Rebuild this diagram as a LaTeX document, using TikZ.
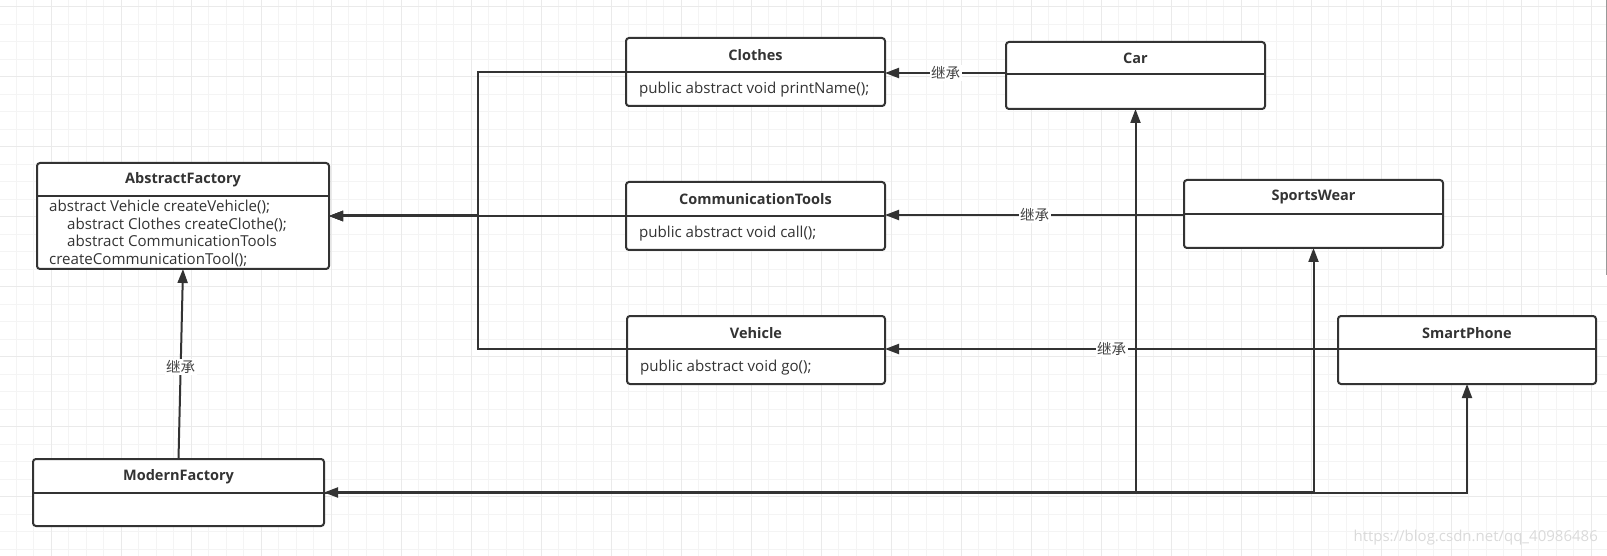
\documentclass[tikz,border=0pt]{standalone}
\usepackage{fontspec}
\setmainfont{Open Sans}
\newfontfamily\cjk{Noto Sans CJK SC}
\usetikzlibrary{arrows.meta}
\definecolor{ink}{HTML}{333333}
\definecolor{lblink}{HTML}{444444}
\definecolor{gridminor}{HTML}{F4F4F4}
\definecolor{gridmajor}{HTML}{EAEAEA}
\definecolor{wm}{HTML}{DADADA}
\tikzset{
 classbox/.style={draw=ink, line width=2pt, rounded corners=3pt, fill=white, inner sep=0pt, outer sep=0pt, anchor=north west},
 divider/.style={draw=ink, line width=2pt},
 ctitle/.style={font=\bfseries\fontsize{14.5}{17}\selectfont, text=ink, inner sep=0pt},
 cbody/.style={font=\fontsize{15.1}{17.7}\selectfont, text=ink, inner sep=0pt, anchor=west, align=left},
 edge/.style={draw=ink, line width=2pt, -{Triangle[length=14pt,width=10pt]}},
 trunk/.style={draw=ink, line width=3pt},
 lbl/.style={fill=white, inner sep=1.5pt, font=\cjk\fontsize{14.5}{16}\selectfont, text=lblink},
}
\begin{document}
\begin{tikzpicture}[x=1pt,y=-1pt]
\useasboundingbox (0,0) rectangle (1607,556);
\fill[white] (0,0) rectangle (1607,556);
% grid
\foreach \k in {0,...,92} \draw[gridminor, line width=1pt] ({-1.5+17.5*\k},0) -- ({-1.5+17.5*\k},556);
\foreach \k in {0,...,31} \draw[gridminor, line width=1pt] (0,{6.7+17.5*\k}) -- (1607,{6.7+17.5*\k});
\foreach \k in {0,...,22} \draw[gridmajor, line width=1pt] ({51+70*\k},0) -- ({51+70*\k},556);
\foreach \k in {0,...,7} \draw[gridmajor, line width=1pt] (0,{6.7+70*\k}) -- (1607,{6.7+70*\k});
\draw[color=black!40, line width=1pt] (1606,0) -- (1606,275);

% classes
\node[classbox, minimum width=292pt, minimum height=106pt] (af) at (37,163) {};
\draw[divider] (37,196) -- (329,196);
\node[ctitle] (aft) at (183,179.5) {AbstractFactory};
\node[cbody] (afb) at (49,233.5) {abstract Vehicle createVehicle();\\\hspace*{18pt}abstract Clothes createClothe();\\\hspace*{18pt}abstract CommunicationTools\\createCommunicationTool();};

\node[classbox, minimum width=259pt, minimum height=68pt] (clothes) at (626,38) {};
\draw[divider] (626,72) -- (885,72);
\node[ctitle] (clothest) at (755.5,55) {Clothes};
\node[cbody] (clothesb) at (639,89.5) {public abstract void printName();};

\node[classbox, minimum width=259pt, minimum height=67pt] (car) at (1006,42) {};
\draw[divider] (1006,74) -- (1265,74);
\node[ctitle] (cart) at (1135.5,58) {Car};

\node[classbox, minimum width=259pt, minimum height=68pt] (comm) at (626,182) {};
\draw[divider] (626,216) -- (885,216);
\node[ctitle] (commt) at (755.5,199) {CommunicationTools};
\node[cbody] (commb) at (639,233.5) {public abstract void call();};

\node[classbox, minimum width=259pt, minimum height=68pt] (sports) at (1184,180) {};
\draw[divider] (1184,214.5) -- (1443,214.5);
\node[ctitle] (sportst) at (1313.5,197) {SportsWear};

\node[classbox, minimum width=258pt, minimum height=68pt] (vehicle) at (627,316) {};
\draw[divider] (627,349) -- (885,349);
\node[ctitle] (vehiclet) at (756,333) {Vehicle};
\node[cbody] (vehicleb) at (640,368) {public abstract void go();};

\node[classbox, minimum width=258pt, minimum height=68pt] (smart) at (1338,316) {};
\draw[divider] (1338,349) -- (1596,349);
\node[ctitle] (smartt) at (1467,333) {SmartPhone};

\node[classbox, minimum width=291pt, minimum height=67pt] (mf) at (33,459) {};
\draw[divider] (33,493) -- (324,493);
\node[ctitle] (mft) at (178.5,476.5) {ModernFactory};

% row coordinates
\coordinate (r73) at (0,73);
\coordinate (r72) at (0,72);
\coordinate (r215) at (0,215);
\coordinate (r349) at (0,349);
\coordinate (jL) at (478,216);

% inheritance edges
\draw[edge] (car.west |- r73) -- node[lbl]{继承} (clothes.east |- r73);
\draw[edge] (sports.west |- r215) -- node[lbl]{继承} (comm.east |- r215);
\draw[edge] (smart.west |- r349) -- node[lbl]{继承} (vehicle.east |- r349);
\draw[edge] (mf.north) -- node[lbl, pos=0.484]{继承} (af.south);

% products to abstract factory
\draw[edge] (clothes.west |- r72) -| (jL) -- (af.east |- jL);
\draw[edge] (vehicle.west |- r349) -| (jL) -- (af.east |- jL);
\draw[edge] (comm.west |- jL) -- (af.east |- jL);
\draw[trunk, shorten >=12pt] (jL) -- (af.east |- jL);

% modern factory to products
\draw[edge] (mf.east) -| (car.south);
\draw[edge] (mf.east) -| (sports.south);
\draw[edge, {Triangle[length=14pt,width=10pt]}-{Triangle[length=14pt,width=10pt]}] (mf.east) -| (smart.south);
\draw[trunk, shorten >=12pt] (sports.south |- mf.east) -- (mf.east);

\node[font=\fontsize{15}{18}\selectfont, text=wm, anchor=east, inner sep=0pt] (wmk) at (1598,538) {https://blog.csdn.net/qq\_40986486};
\end{tikzpicture}
\end{document}
